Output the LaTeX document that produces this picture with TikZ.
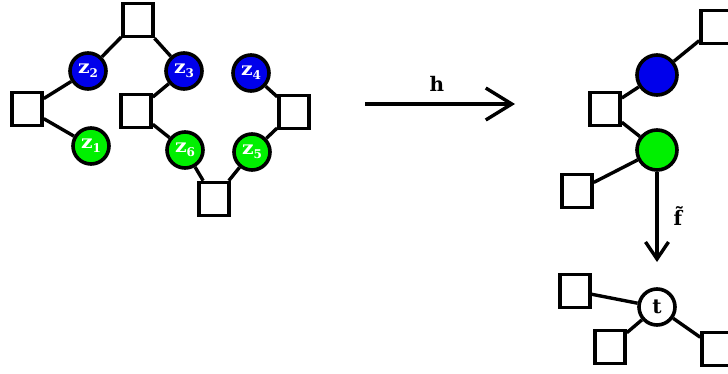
\documentclass[tikz,border=0pt]{standalone}
\usepackage{fontspec}
\setmainfont{DejaVu Serif}
\usetikzlibrary{arrows.meta}
\definecolor{nodeblue}{RGB}{0,0,235}
\definecolor{nodegreen}{RGB}{0,240,0}
\tikzset{
  sq/.style={draw, line width=3.6pt, fill=white, minimum width=30pt, minimum height=33pt, inner sep=0pt},
  cir/.style={circle, draw, line width=3.6pt, minimum size=36pt, inner sep=0pt, text=white, font=\fontsize{18.5}{22}\selectfont\bfseries},
  bigcir/.style={circle, draw, line width=3.6pt, minimum size=40pt, inner sep=0pt},
  bcol/.style={fill=nodeblue},
  gcol/.style={fill=nodegreen},
  conn/.style={line width=3.4pt},
  lab/.style={font=\fontsize{20}{24}\selectfont\bfseries},
}
\newcommand{\zz}[1]{\scalebox{1.1}[1]{z}\raisebox{-0.22em}{\fontsize{12}{12}\selectfont #1}}
\begin{document}
\begin{tikzpicture}[x=1pt,y=-1pt]
\useasboundingbox (0,0) rectangle (728,374);
% left graph
\node[sq] (s0) at (138,20) {};
\node[sq] (sL) at (27,109) {};
\node[sq] (sM) at (136,111) {};
\node[sq] (sR) at (294,112) {};
\node[sq] (sB) at (214,199) {};
\node[cir,bcol] (z2) at (88,71) {\zz{2}};
\node[cir,bcol] (z3) at (184,71) {\zz{3}};
\node[cir,bcol] (z4) at (251,73) {\zz{4}};
\node[cir,gcol] (z1) at (91,146) {\zz{1}};
\node[cir,gcol] (z6) at (185,150) {\zz{6}};
\node[cir,gcol] (z5) at (252,152) {\zz{5}};
\draw[conn] (s0) -- (z2);
\draw[conn] (s0) -- (z3);
\draw[conn] (sL) -- (z2);
\draw[conn] (sL) -- (z1);
\draw[conn] (sM) -- (z3);
\draw[conn] (sM) -- (z6);
\draw[conn] (z6) -- (sB);
\draw[conn] (z5) -- (sB);
\draw[conn] (z4) -- (sR);
\draw[conn] (sR) -- (z5);
% arrow h
\coordinate (hs) at (365,104);
\coordinate (he) at (515,104);
\draw[conn, -{Straight Barb[length=26pt,width=32pt,line width=3.4pt]}] (hs) -- (he);
\node[lab] (hl) at (437,84) {h};
% right graph
\node[sq] (r0) at (716,27) {};
\node[bigcir,bcol] (rb) at (657,75) {};
\node[sq] (r1) at (605,109) {};
\node[bigcir,gcol] (rg) at (657,150) {};
\node[sq] (r2) at (577,191) {};
\draw[conn] (r0) -- (rb);
\draw[conn] (rb) -- (r1);
\draw[conn] (r1) -- (rg);
\draw[conn] (rg) -- (r2);
% arrow f
\coordinate (fe) at (657,262);
\draw[conn, -{Straight Barb[length=17pt,width=23pt,line width=3.4pt]}] (rg.south) -- (fe);
\node[lab] (fl) at (678,216) {f̃};
% bottom tree
\node[circle, draw, line width=3.6pt, minimum size=36pt, inner sep=0pt, fill=white, lab] (t) at (657,307) {t};
\node[sq] (t1) at (575,291) {};
\node[sq] (t2) at (610,347) {};
\node[sq] (t3) at (717,349) {};
\draw[conn] (t) -- (t1);
\draw[conn] (t) -- (t2);
\draw[conn] (t) -- (t3);
\end{tikzpicture}
\end{document}
